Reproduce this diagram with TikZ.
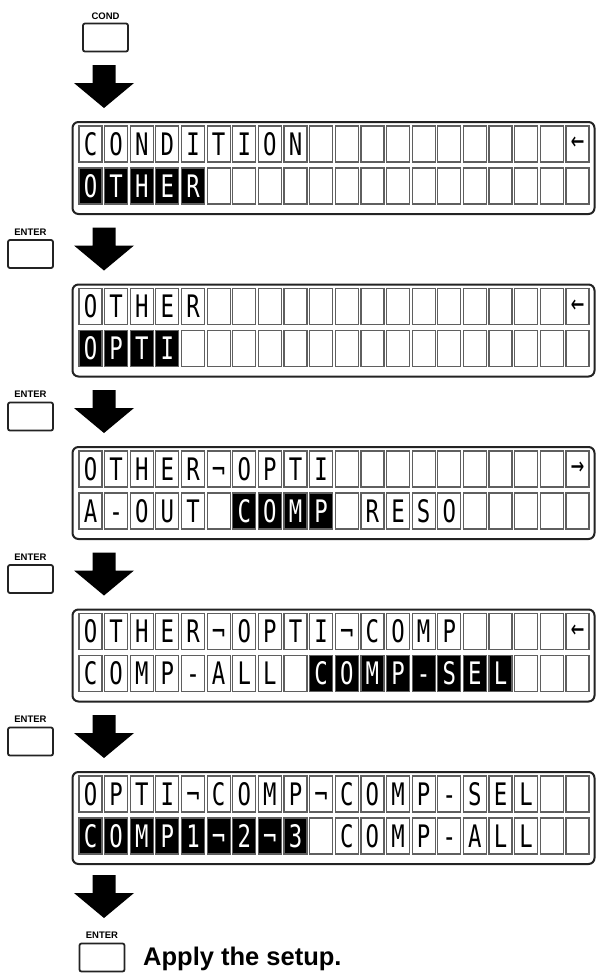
\documentclass[tikz,border=0pt]{standalone}
\usepackage{fontspec}
\usetikzlibrary{positioning,calc}
\newfontfamily\lcdfont[FakeStretch=0.72]{DejaVu Sans Mono}
\newfontfamily\keyfont{Liberation Sans}
\definecolor{frame}{RGB}{35,35,35}
\definecolor{cellline}{RGB}{95,95,95}
\tikzset{
  lcd/.style={draw=frame, fill=white, line width=2pt, rounded corners=6pt,
              anchor=north west, minimum width=522pt, minimum height=92pt,
              inner sep=0pt},
  cellbox/.style={draw=cellline, line width=1.2pt, minimum width=23pt,
                  minimum height=36pt, inner sep=0pt},
  markglyph/.style={font=\lcdfont\fontsize{31}{31}\selectfont, inner sep=0pt},
  glyph/.style={markglyph, text height=22.6pt, text depth=0pt},
  key/.style={draw=frame, line width=1.8pt, rounded corners=2pt,
              minimum width=45pt, minimum height=28pt, inner sep=0pt},
  keylabel/.style={font=\keyfont\bfseries\fontsize{9.5}{9.5}\selectfont,
                   inner sep=0pt},
  bigdown/.style={fill=black},
}

\begin{document}
\begin{tikzpicture}[x=1pt, y=-1pt]
  \useasboundingbox (0,0) rectangle (598,978);

  %% first key
  \node[keylabel] (lcond) at (105.5,16) {COND};
  \node[key] (kcond) at (105.5,37.5) {};

  %% display panels: number / row 1 / row 2 / highlight from-to / end mark
  \foreach \n/\ra/\rb/\ha/\hb/\m in {
      1/{C,O,N,D,I,T,I,O,N}/{O,T,H,E,R}/1/5/{←},
      2/{O,T,H,E,R}/{O,P,T,I}/1/4/{←},
      3/{O,T,H,E,R,¬,O,P,T,I}/{A,-,O,U,T,{},C,O,M,P,{},R,E,S,O}/7/10/{→},
      4/{O,T,H,E,R,¬,O,P,T,I,¬,C,O,M,P}/{C,O,M,P,-,A,L,L,{},C,O,M,P,-,S,E,L}/10/17/{←},
      5/{O,P,T,I,¬,C,O,M,P,¬,C,O,M,P,-,S,E,L}/{C,O,M,P,1,¬,2,¬,3,{},C,O,M,P,-,A,L,L}/1/9/{}} {
    \pgfmathsetmacro\ty{121+(\n-1)*162.5}
    \node[lcd] (lcd\n) at (71.5,\ty) {};
    \foreach \k in {1,...,20} {
      \pgfmathsetmacro\cx{90.5+(\k-1)*25.63}
      \pgfmathtruncatemacro\on{and(\k>=\ha,\k<=\hb)}
      \ifnum\on=1 \def\cf{black}\else\def\cf{white}\fi
      \node[cellbox, fill=white] (c\n-1-\k) at (\cx,\ty+23) {};
      \node[cellbox, fill=\cf] (c\n-2-\k) at (\cx,\ty+65) {};
    }
    \foreach \c [count=\k] in \ra
      \node[glyph] (t\n-1-\k) at (c\n-1-\k) {\c};
    \foreach \c [count=\k] in \rb {
      \pgfmathtruncatemacro\on{and(\k>=\ha,\k<=\hb)}
      \ifnum\on=1 \def\tc{white}\else\def\tc{black}\fi
      \node[glyph, text=\tc] (t\n-2-\k) at (c\n-2-\k) {\c};
    }
    \node[markglyph] (m\n) at (c\n-1-20) {\m};
  }

  %% big arrows between the steps
  \foreach \t in {121,283.5,446,608.5,771,931}
    \fill[bigdown] (92.5,\t-56) -- (115.5,\t-56) -- (115.5,\t-38) -- (134,\t-38)
      -- (104,\t-13) -- (74,\t-38) -- (92.5,\t-38) -- cycle;

  %% ENTER keys beside the arrows
  \foreach \t [count=\i] in {283.5,446,608.5,771} {
    \node[keylabel] (lent\i) at (30.5,\t-51.5) {ENTER};
    \node[key] (kent\i) at (30.5,\t-29.5) {};
  }
  \node[keylabel] (lend) at (102,935) {ENTER};
  \node[key] (kend) at (102,957.5) {};
  \node[anchor=base west, inner sep=0pt,
        font=\keyfont\bfseries\fontsize{25.5}{25.5}\selectfont] (apply)
        at (143,965) {Apply the setup.};
\end{tikzpicture}
\end{document}
